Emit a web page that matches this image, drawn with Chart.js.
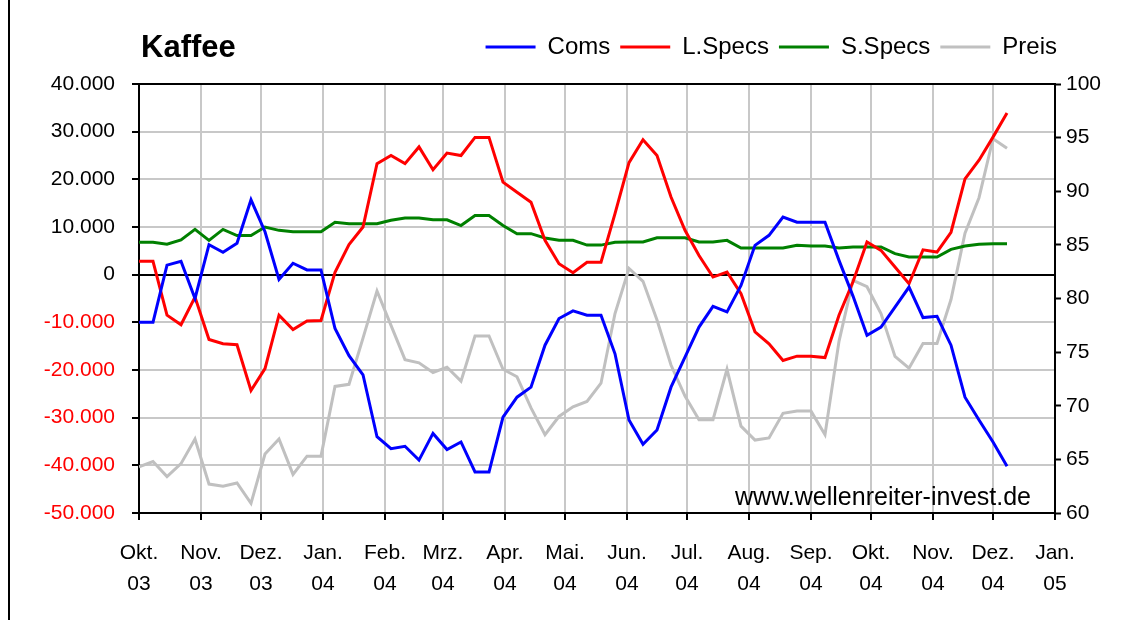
<!DOCTYPE html>
<html>
<head>
<meta charset="utf-8">
<script src="https://cdn.jsdelivr.net/npm/chart.js@4.4.1/dist/chart.umd.min.js"></script>
<style>
html,body{margin:0;padding:0;background:#fff;}
canvas{display:block;}
</style>
</head>
<body>
<canvas id="c" width="1121" height="620"></canvas>
<script>
const chartTitle = 'Kaffee';
const watermarkText = 'www.wellenreiter-invest.de';
const seriesNames = ['Coms', 'L.Specs', 'S.Specs', 'Preis'];
const seriesColors = ['#0000ff', '#ff0000', '#008000', '#c0c0c0'];

const monthLabels = ['Okt.','Nov.','Dez.','Jan.','Feb.','Mrz.','Apr.','Mai.','Jun.','Jul.','Aug.','Sep.','Okt.','Nov.','Dez.','Jan.'];
const yearLabels  = ['03','03','03','04','04','04','04','04','04','04','04','04','04','04','04','05'];
const monthStarts = ['2003-10-01','2003-11-01','2003-12-01','2004-01-01','2004-02-01','2004-03-01','2004-04-01','2004-05-01',
                     '2004-06-01','2004-07-01','2004-08-01','2004-09-01','2004-10-01','2004-11-01','2004-12-01','2005-01-01'];

// weekly reports, first one at the start of the axis
const firstReportDay = 0;
const reportStepDays = 7;

const coms = [-10000,-10000,2000,2800,-5000,6300,4700,6600,15700,9000,
  -1000,2400,1000,1000,-11300,-17000,-21000,-34000,-36500,-36000,
  -38900,-33300,-36700,-35100,-41400,-41400,-29900,-25700,-23600,-14800,
  -9200,-7600,-8500,-8500,-16600,-30500,-35600,-32600,-23600,-17300,
  -11000,-6650,-7800,-2250,6150,8250,12100,11000,11000,11000,
  3000,-4500,-12700,-11000,-6800,-2600,-9000,-8750,-14800,-25700,
  -30500,-35100,-40200];

const lSpecs = [2800,2800,-8500,-10500,-4700,-13600,-14500,-14700,-24300,-19700,
  -8500,-11500,-9700,-9600,500,6300,10000,23300,25000,23300,
  26800,22000,25500,25000,28800,28800,19400,17300,15200,7200,
  2300,400,2600,2600,12800,23500,28300,25000,16300,9300,
  4000,-500,550,-4000,-12000,-14500,-18000,-17100,-17100,-17400,
  -8500,-1500,6850,5100,1600,-1900,5200,4750,8900,20100,
  24000,28850,33900];

const sSpecs = [6800,6800,6400,7300,9500,7200,9500,8200,8200,10000,
  9300,9000,9000,9000,11000,10700,10700,10700,11400,11900,
  11900,11500,11500,10300,12400,12400,10300,8600,8600,7700,
  7200,7200,6200,6200,6800,6850,6850,7750,7750,7750,
  6850,6850,7200,5600,5600,5600,5600,6150,6000,6000,
  5600,5800,5800,5800,4400,3700,3700,3700,5300,6000,
  6400,6500,6500];

const preis = [64.3,64.8,63.4,64.6,66.9,62.7,62.5,62.8,60.9,65.5,
  66.9,63.6,65.3,65.3,71.8,72.0,76.3,80.7,77.5,74.3,
  74.0,73.1,73.6,72.3,76.5,76.5,73.4,72.7,69.8,67.3,
  69.0,69.9,70.4,72.1,78.6,82.8,81.6,78.0,73.8,70.9,
  68.7,68.7,73.4,68.1,66.8,67.0,69.3,69.5,69.5,67.3,
  76.0,81.7,81.1,78.6,74.6,73.5,75.8,75.8,79.9,86.1,
  89.4,94.9,94.0];

const leftMin = -50000, leftMax = 40000, leftStep = 10000;
const rightMin = 60, rightMax = 100, rightStep = 5;

// ---- derived ----
const DAY = 86400000;
const origin = Date.parse(monthStarts[0] + 'T00:00:00Z');
const monthDays = monthStarts.map(s => Math.round((Date.parse(s + 'T00:00:00Z') - origin) / DAY));
const toPoints = arr => arr.map((v, i) => ({x: firstReportDay + i * reportStepDays, y: v}));

const FONT = "'Liberation Sans', Arial, sans-serif";

function fmtThousands(v) {
  const s = Math.abs(v).toString().replace(/\B(?=(\d{3})+(?!\d))/g, '.');
  return (v < 0 ? '-' : '') + s;
}

// legend sits higher than the plot and ends left of the right axis labels
const legendGap = {
  id: 'legendGap',
  beforeLayout(chart) {
    const lg = chart.legend;
    if (lg && !lg._gapPatched) {
      const orig = lg.fit;
      lg.fit = function () {
        orig.call(this);
        if (this.height) this.height += 15;
        if (this.lineWidths && this.lineWidths.length) this.lineWidths[0] += 54;
      };
      lg._gapPatched = true;
    }
  }
};

const decorations = {
  id: 'decorations',
  beforeDraw(chart) {
    const ctx = chart.ctx;
    ctx.save();
    ctx.fillStyle = '#ffffff';
    ctx.fillRect(0, 0, chart.width, chart.height);
    ctx.fillStyle = '#000000';
    ctx.fillRect(8, 0, 2, chart.height);
    ctx.restore();
  },
  afterDraw(chart) {
    const ctx = chart.ctx;
    ctx.save();
    ctx.fillStyle = '#000000';
    ctx.textBaseline = 'alphabetic';
    ctx.textAlign = 'left';
    ctx.font = "bold 31px " + FONT;
    ctx.fillText(chartTitle, 141, 57);
    ctx.font = "25px " + FONT;
    ctx.textAlign = 'right';
    ctx.fillText(watermarkText, 1031, 505);
    ctx.restore();
  }
};

const datasets = [coms, lSpecs, sSpecs, preis].map((arr, i) => ({
  label: seriesNames[i],
  data: toPoints(arr),
  borderColor: seriesColors[i],
  backgroundColor: seriesColors[i],
  borderWidth: 3,
  pointRadius: 0,
  pointHoverRadius: 0,
  tension: 0,
  fill: false,
  yAxisID: i === 3 ? 'y1' : 'y'
}));

new Chart(document.getElementById('c'), {
  type: 'line',
  data: {datasets},
  plugins: [legendGap, decorations],
  options: {
    responsive: false,
    animation: false,
    events: [],
    layout: {padding: {top: 25, right: 0, left: 0, bottom: 0}},
    plugins: {
      title: {display: false},
      tooltip: {enabled: false},
      legend: {
        display: true,
        position: 'top',
        align: 'end',
        labels: {
          usePointStyle: true,
          pointStyle: 'line',
          pointStyleWidth: 50,
          padding: 10,
          color: '#000',
          font: {size: 24, family: FONT}
        }
      }
    },
    scales: {
      x: {
        type: 'linear',
        min: monthDays[0],
        max: monthDays[monthDays.length - 1],
        afterBuildTicks(scale) { scale.ticks = monthDays.map(v => ({value: v})); },
        afterFit(scale) { scale.height = 107; },
        ticks: {
          autoSkip: false,
          maxRotation: 0,
          minRotation: 0,
          padding: 18,
          color: '#000',
          font: {size: 21, family: FONT, lineHeight: 31 / 21},
          callback: (value, index) => [monthLabels[index], yearLabels[index]]
        },
        grid: {color: '#c8c8c8', lineWidth: 2, tickColor: '#000', tickLength: 7, tickWidth: 2},
        border: {display: true, color: '#000', width: 2}
      },
      y: {
        position: 'left',
        min: leftMin,
        max: leftMax,
        afterFit(scale) { scale.width = 139; },
        ticks: {
          stepSize: leftStep,
          padding: 17,
          font: {size: 21, family: FONT},
          color: ctx => (ctx.tick && ctx.tick.value < 0) ? '#ff0000' : '#000000',
          callback: v => fmtThousands(v)
        },
        grid: {
          color: ctx => (ctx.tick && (ctx.tick.value === 0 || ctx.tick.value === leftMax)) ? '#000000' : '#c8c8c8',
          lineWidth: 2,
          tickColor: '#000',
          tickLength: 7,
          tickWidth: 2
        },
        border: {display: true, color: '#000', width: 2}
      },
      y1: {
        position: 'right',
        min: rightMin,
        max: rightMax,
        afterFit(scale) { scale.width = 66; },
        ticks: {
          stepSize: rightStep,
          padding: 5,
          color: '#000',
          font: {size: 21, family: FONT}
        },
        grid: {drawOnChartArea: false, tickColor: '#000', tickLength: 6, tickWidth: 2},
        border: {display: true, color: '#000', width: 2}
      }
    }
  }
});
</script>
</body>
</html>
